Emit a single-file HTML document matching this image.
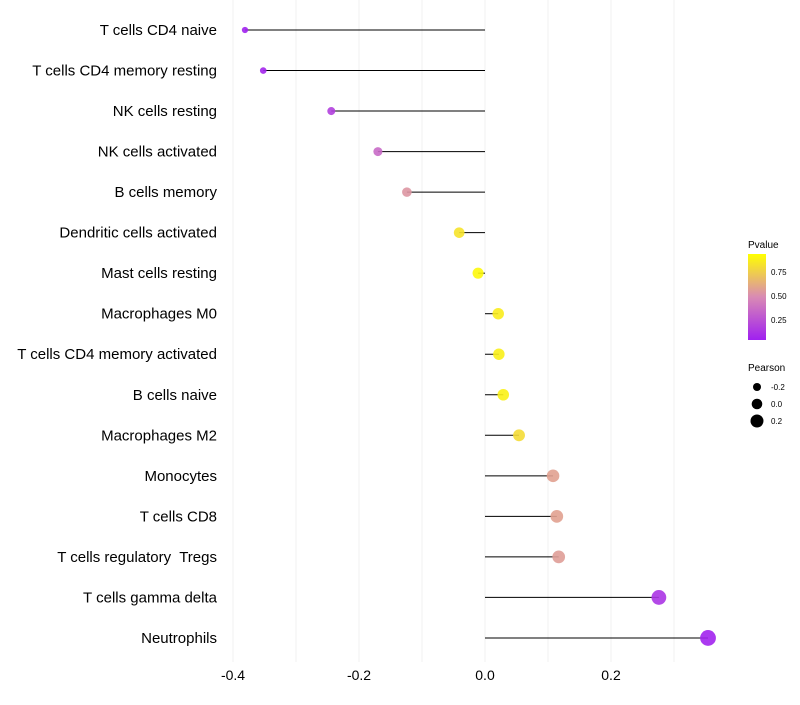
<!DOCTYPE html>
<html><head><meta charset="utf-8"><style>
body{margin:0;background:#fff;font-family:"Liberation Sans",sans-serif;}
text{white-space:pre;}
</style></head><body>
<svg id="chart" width="800" height="700" xmlns="http://www.w3.org/2000/svg">
<defs><linearGradient id="pg" x1="0" y1="1" x2="0" y2="0">
<stop offset="0" stop-color="#A020F0"/><stop offset="0.5" stop-color="#D98AB4"/><stop offset="1" stop-color="#FFFF00"/>
</linearGradient></defs>
<g id="grid"></g>
<g id="marks"></g>
<g id="ylabels"></g>
<g id="xlabels"></g>
<g>
<text x="748" y="248" font-size="10">Pvalue</text>
<rect x="748" y="254" width="18" height="86" fill="url(#pg)"/>
<text x="771" y="275" font-size="8">0.75</text>
<text x="771" y="299" font-size="8">0.50</text>
<text x="771" y="323" font-size="8">0.25</text>
</g>
<g>
<text x="748" y="371" font-size="10">Pearson</text>
<circle cx="757" cy="387" r="4" fill="#000"/>
<text x="771" y="390" font-size="8">-0.2</text>
<circle cx="757" cy="404" r="5.3" fill="#000"/>
<text x="771" y="407" font-size="8">0.0</text>
<circle cx="757" cy="421" r="6.5" fill="#000"/>
<text x="771" y="424" font-size="8">0.2</text>
</g>
</svg>
<script>
const categories=["T cells CD4 naive","T cells CD4 memory resting","NK cells resting","NK cells activated","B cells memory","Dendritic cells activated","Mast cells resting","Macrophages M0","T cells CD4 memory activated","B cells naive","Macrophages M2","Monocytes","T cells CD8","T cells regulatory  Tregs","T cells gamma delta","Neutrophils"];
const pearson=[-0.381,-0.352,-0.244,-0.170,-0.124,-0.041,-0.011,0.021,0.022,0.029,0.054,0.108,0.114,0.117,0.276,0.354];
const pvalue=[0.01,0.03,0.15,0.35,0.55,0.88,0.97,0.92,0.93,0.94,0.85,0.6,0.6,0.58,0.1,0.02];
const xTicks=[-0.4,-0.2,0.0,0.2];
const xTickLabels=["-0.4","-0.2","0.0","0.2"];
const xMinor=[-0.3,-0.1,0.1,0.3];
const NS="http://www.w3.org/2000/svg";
const x=v=>485+v*630;
const y=i=>30+i*40.53;
const rr=p=>Math.max(1.8,5.6+p*6.5);
function lerp(a,b,t){return a.map((v,k)=>Math.round(v+(b[k]-v)*t));}
function col(p){const c0=[160,32,240],c1=[217,138,180],c2=[255,255,0];
 const c=p<0.5?lerp(c0,c1,p/0.5):lerp(c1,c2,(p-0.5)/0.5);return `rgb(${c})`;}
function mk(tag,at,parent){const e=document.createElementNS(NS,tag);for(const k in at)e.setAttribute(k,at[k]);parent.appendChild(e);return e;}
const grid=document.getElementById('grid'),marks=document.getElementById('marks'),yl=document.getElementById('ylabels'),xl=document.getElementById('xlabels');
xTicks.concat(xMinor).forEach(v=>{const l=mk('line',{x1:x(v),x2:x(v),y1:0,y2:662,stroke:'#f0f0f0','stroke-width':1},grid);

});
xTicks.forEach((v,i)=>{const t=mk('text',{x:x(v),y:680,'font-size':14,'text-anchor':'middle',fill:'#000'},xl);t.textContent=xTickLabels[i];

});
categories.forEach((c,i)=>{
 const t=mk('text',{x:217,y:y(i)+5,'font-size':15,'text-anchor':'end',fill:'#000'},yl);t.textContent=c;
 
 
 const l=mk('line',{x1:x(0),x2:x(pearson[i]),y1:y(i),y2:y(i),stroke:'#000','stroke-width':1},marks);
 
 
 const d=mk('circle',{cx:x(pearson[i]),cy:y(i),r:rr(pearson[i]),fill:col(pvalue[i]),'fill-opacity':0.9},marks);
 
 
});
</script>
</body></html>
